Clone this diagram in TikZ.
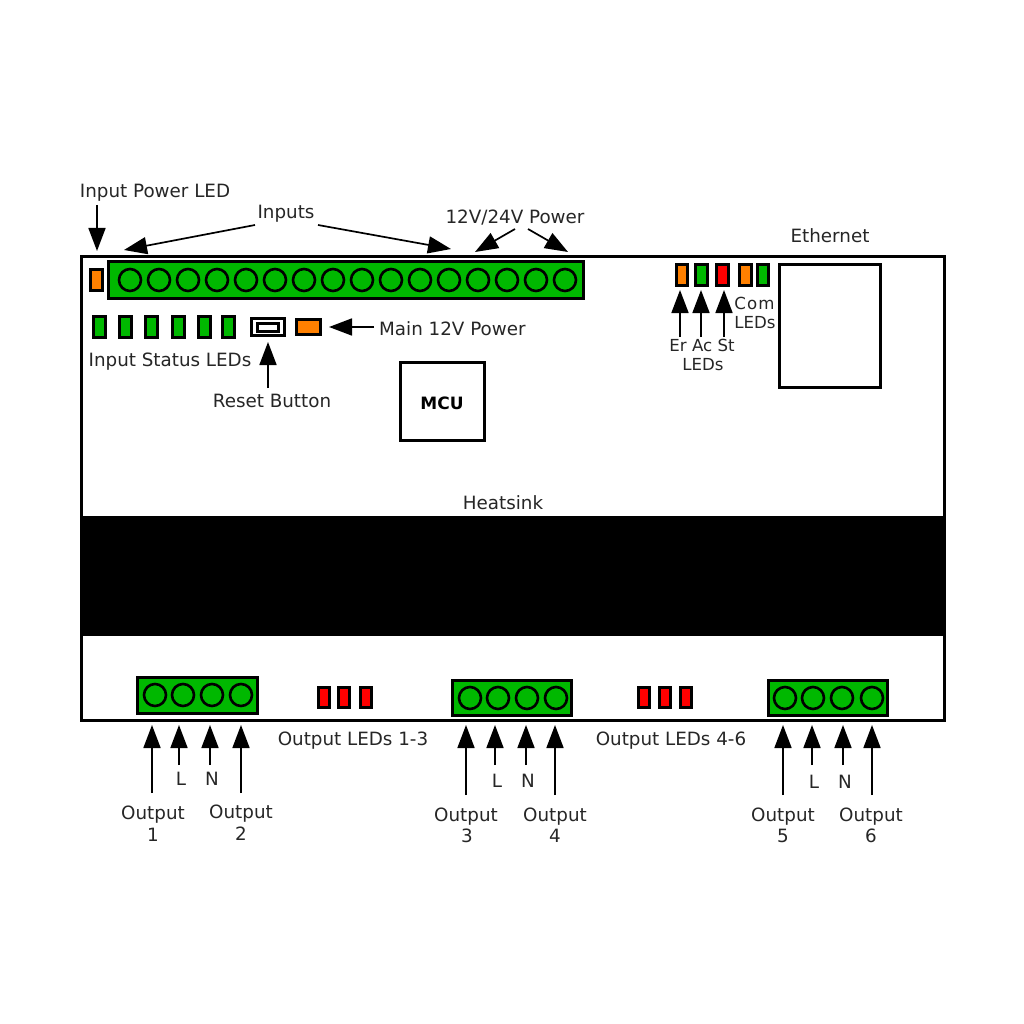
\documentclass[tikz,border=0pt]{standalone}
\usepackage{fontspec}
\setmainfont{DejaVu Sans}
\usetikzlibrary{arrows.meta}
\definecolor{ledgreen}{RGB}{0,184,0}
\definecolor{ledorange}{RGB}{255,128,0}
\definecolor{ledred}{RGB}{255,0,0}
\tikzset{
  lbl/.style={font=\fontsize{18.3}{22}\selectfont,inner sep=0pt,text=black!85,yshift=-1pt},
  lblsmall/.style={lbl,font=\fontsize{16.6}{20}\selectfont},
  hw/.style={draw=black,line width=3pt},
  green box/.style={hw,fill=ledgreen},
  orange box/.style={hw,fill=ledorange},
  red box/.style={hw,fill=ledred},
  pin/.style={draw=black,line width=2.6pt,fill=ledgreen},
  pointer/.style={draw=black,line width=1.7pt,-{Triangle[length=23pt,width=17pt]}}
}
\newcommand{\rbox}[6]{\node[#2,minimum width=#5-#3-1 pt,minimum height=#6-#4-1 pt,inner sep=0pt,outer sep=0pt] (#1) at ({(#3+#5)/2},{(#4+#6)/2}) {};}
\newcommand{\conn}[5]{\coordinate (#1-s) at (#2,#3); \coordinate (#1-e) at (#4,#5); \draw[pointer] (#1-s) -- (#1-e);}
\newcommand{\pinc}[3]{\node[pin,circle,minimum size=22pt,inner sep=0pt] (#1) at (#2,#3) {};}
\begin{document}
\begin{tikzpicture}[x=1pt,y=-1pt]
\useasboundingbox (0,0) rectangle (1024,1024);
\fill[white] (0,0) rectangle (1024,1024);
% housing
\rbox{housing}{hw,fill=white}{81}{256}{945}{721}
\rbox{heatsink}{fill=black}{80.5}{515.5}{945.5}{636}
% input connector
\rbox{inconn}{green box}{108}{261}{584}{299}
\foreach \i in {0,...,15} {\pinc{ip\i}{130+29*\i}{280}}
% left LEDs
\rbox{pwrled}{orange box}{90}{269}{103}{291}
\rbox{st1}{green box}{93}{316}{106}{338}
\rbox{st2}{green box}{119}{316}{132}{338}
\rbox{st3}{green box}{145}{316}{158}{338}
\rbox{st4}{green box}{172}{316}{185}{338}
\rbox{st5}{green box}{198}{316}{211}{338}
\rbox{st6}{green box}{222}{316}{235}{338}
% reset
\rbox{resetout}{hw,fill=white,line width=2.6pt}{251}{318}{285}{336}
\rbox{resetin}{hw,fill=white}{257}{322.5}{279}{331.5}
\rbox{mainled}{orange box}{296}{319}{321}{335}
% right LEDs
\rbox{er}{orange box}{676}{264}{688}{286}
\rbox{ac}{green box}{695}{264}{708}{286}
\rbox{stl}{red box}{716}{264}{729}{286}
\rbox{com1}{orange box}{739}{264}{752}{286}
\rbox{com2}{green box}{757}{264}{769}{286}
\rbox{eth}{hw,fill=white}{779}{264}{881}{388}
\rbox{mcu}{hw,fill=white}{400}{362}{485}{441}
\node[lbl,font=\fontsize{17}{20}\selectfont\bfseries,text=black] (mcutxt) at (442,402) {MCU};
% output connectors
\rbox{oc1}{green box}{137}{677}{258}{714}
\pinc{a1}{155}{695}\pinc{a2}{183}{695}\pinc{a3}{212}{695}\pinc{a4}{241}{695}
\rbox{oc2}{green box}{452}{680}{572}{716}
\pinc{b1}{470}{698}\pinc{b2}{498}{698}\pinc{b3}{527}{698}\pinc{b4}{556}{698}
\rbox{oc3}{green box}{768}{680}{888}{716}
\pinc{c1}{785}{698}\pinc{c2}{813}{698}\pinc{c3}{842}{698}\pinc{c4}{872}{698}
% output LEDs
\rbox{o1}{red box}{318}{687}{330}{708}
\rbox{o2}{red box}{338}{687}{350}{708}
\rbox{o3}{red box}{360}{687}{372}{708}
\rbox{o4}{red box}{638}{687}{650}{708}
\rbox{o5}{red box}{659}{687}{671}{708}
\rbox{o6}{red box}{680}{687}{692}{708}
% labels
\node[lbl] (t1) at (155,191.5) {Input Power LED};
\node[lbl] (t2) at (286,212.5) {Inputs};
\node[lbl] (t3) at (515,216.5) {12V/24V Power};
\node[lbl] (t4) at (830,235) {Ethernet};
\node[lbl,anchor=west] (t5) at (379,328) {Main 12V Power};
\node[lbl] (t6) at (170,360.5) {Input Status LEDs};
\node[lbl] (t7) at (272,400) {Reset Button};
\node[lblsmall,yshift=0pt] (t8) at (754.5,302) {C\kern1.2pt o\kern1.2pt m};
\node[lblsmall,yshift=0pt] (t9) at (755,322) {LEDs};
\node[lblsmall,yshift=0pt] (t10) at (702,344) {Er Ac St};
\node[lblsmall,yshift=0pt] (t11) at (703,364) {LEDs};
\node[lbl] (t12) at (503,502) {Heatsink};
\node[lbl] (t13) at (353,739.5) {Output LEDs 1-3};
\node[lbl] (t14) at (671,739.5) {Output LEDs 4-6};
\foreach \n/\x/\y/\s in {l1/181/778/L,n1/212/778/N,l2/497/780/L,n2/528/780/N,l3/814/781/L,n3/845/781/N} {\node[lbl] (\n) at (\x,\y) {\s};}
\foreach \n/\x/\y/\s in {u1/153/814/Output,v1/153/834/1,u2/241/813/Output,v2/241/833/2,u3/466/816/Output,v3/467/835/3,u4/555/816/Output,v4/555/835/4,u5/783/816/Output,v5/783/835/5,u6/871/816/Output,v6/871/835/6} {\node[lbl] (\n) at (\x,\y) {\s};}
% pointers
\conn{p1}{97}{205}{97}{251}
\conn{p2}{255}{225}{124}{250}
\conn{p3}{318}{225}{451}{249}
\conn{p4}{515}{229}{475}{252}
\conn{p5}{528}{229}{568}{252}
\conn{p6}{268}{388}{268}{342}
\conn{p7}{374}{327}{329}{327}
\conn{p8}{680}{337}{680}{290}
\conn{p9}{701}{337}{701}{290}
\conn{p10}{724}{337}{724}{290}
\conn{q1}{152}{793}{152}{725}
\conn{q2}{179}{765}{179}{725}
\conn{q3}{210}{765}{210}{725}
\conn{q4}{241}{793}{241}{725}
\conn{q5}{466}{795}{466}{725}
\conn{q6}{495}{765}{495}{725}
\conn{q7}{526}{765}{526}{725}
\conn{q8}{555}{795}{555}{725}
\conn{q9}{783}{795}{783}{725}
\conn{q10}{812}{765}{812}{725}
\conn{q11}{843}{765}{843}{725}
\conn{q12}{872}{795}{872}{725}
\end{tikzpicture}
\end{document}
